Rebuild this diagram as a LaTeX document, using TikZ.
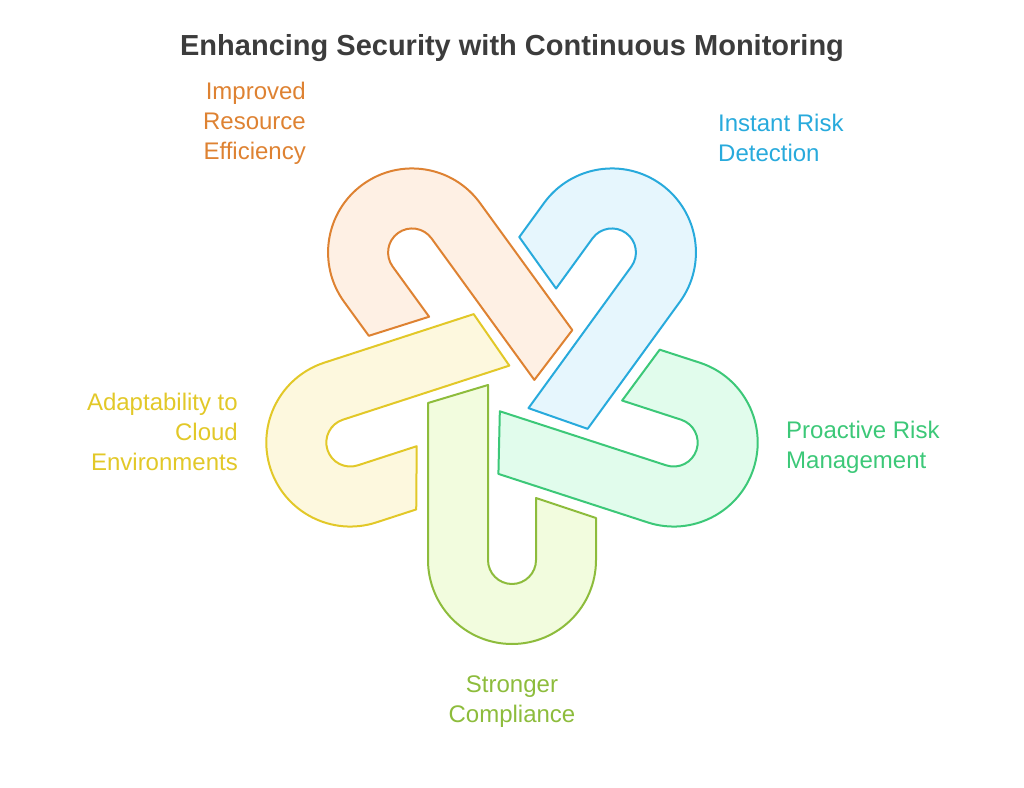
\documentclass[tikz,border=0pt]{standalone}
\usepackage{fontspec}
\setmainfont{Liberation Sans}
\usetikzlibrary{positioning}
\definecolor{cgreen}{RGB}{141,188,60}\definecolor{fgreen}{RGB}{242,252,222}
\definecolor{cyellow}{RGB}{226,200,40}\definecolor{fyellow}{RGB}{253,248,222}
\definecolor{corange}{RGB}{222,130,50}\definecolor{forange}{RGB}{254,240,228}
\definecolor{cblue}{RGB}{40,170,220}\definecolor{fblue}{RGB}{230,246,253}
\definecolor{cteal}{RGB}{60,200,120}\definecolor{fteal}{RGB}{225,252,236}
\definecolor{ctitle}{RGB}{60,60,60}
\begin{document}
\begin{tikzpicture}[x=1pt, y=1pt,
    hook/.style={line width=2pt, line join=round},
    lbl/.style={font=\fontsize{24}{30}\selectfont, inner sep=0pt}
]
\useasboundingbox (0,0) rectangle (1024,787);
\coordinate (c) at (512,397);

% hooks, each rotated around the centre
\foreach \ang/\col in {-144/orange, 144/blue, 72/teal, -72/yellow, 0/green}{
  \draw[hook, draw=c\col, fill=f\col, shift={(c)}, rotate=\ang]
    (-84,-13) -- (-84,-170) arc(180:360:84) -- (84,-128) -- (24,-108)
    -- (24,-170) arc(0:-180:24) -- (-24,5) -- cycle;
}

% title and labels
\node[font=\fontsize{29}{30}\selectfont\bfseries, text=ctitle] (title) at (512,739) {Enhancing Security with Continuous Monitoring};
\node[lbl, text=corange, align=right, anchor=east] (effic) at (306,664) {Improved\\Resource\\Efficiency};
\node[lbl, text=cblue, align=left, anchor=west] (detect) at (718,649) {Instant Risk\\Detection};
\node[lbl, text=cteal, align=left, anchor=west] (proact) at (786,340) {Proactive Risk\\Management};
\node[lbl, text=cgreen, align=center] (comply) at (512,85) {Stronger\\Compliance};
\node[lbl, text=cyellow, align=right, anchor=east] (adapt) at (238,355) {Adaptability to\\Cloud\\Environments};
\end{tikzpicture}
\end{document}
